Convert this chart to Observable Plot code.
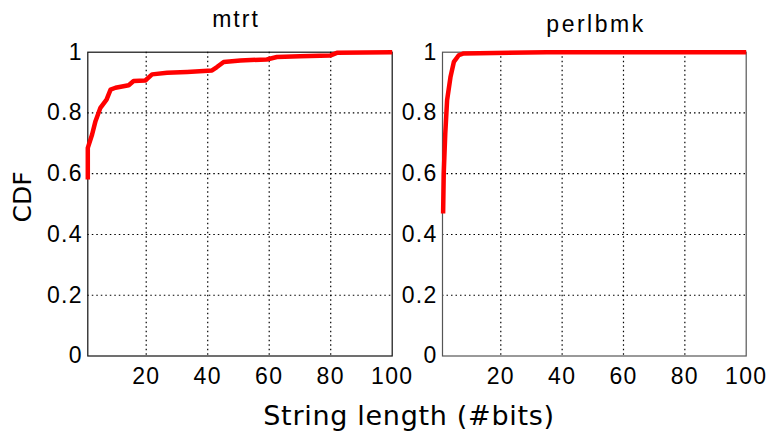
<!DOCTYPE html>
<html>
<head>
<meta charset="utf-8">
<script src="https://cdn.jsdelivr.net/npm/d3@7"></script>
<script src="https://cdn.jsdelivr.net/npm/@observablehq/plot@0.6"></script>
<style>
  body { margin: 0; background: #fff; }
  #wrap { position: relative; width: 769px; height: 431px; background: #fff; overflow: hidden; }
  #wrap > .panel { position: absolute; top: 0; overflow: visible; }
  #overlay { position: absolute; left: 0; top: 0; pointer-events: none; }
</style>
</head>
<body>
<div id="wrap"></div>
<script>
// ---- data ----
const panelTitles = ["mtrt", "perlbmk"];
const xTicks = [20, 40, 60, 80, 100];
const yTicks = [0, 0.2, 0.4, 0.6, 0.8, 1];
const xLabel = "String length (#bits)";
const yLabel = "CDF";

const mtrtLen = [1, 1, 2.4, 3.5, 5.1, 7.1, 8.4, 10, 14.3, 15.9, 19.7, 21.9, 26.8, 33.3, 41.4, 43, 45.2, 50.6, 59.2, 62.5, 70, 79.8, 82, 100];
const mtrtCdf = [0.581, 0.685, 0.729, 0.773, 0.817, 0.844, 0.877, 0.883, 0.891, 0.905, 0.907, 0.927, 0.932, 0.935, 0.94, 0.951, 0.968, 0.973, 0.976, 0.984, 0.987, 0.989, 0.998, 1.0];

const perlLen = [1.2, 1.4, 1.9, 2.5, 3.6, 4.7, 6.3, 7.9, 35, 100];
const perlCdf = [0.469, 0.60, 0.732, 0.842, 0.918, 0.968, 0.99, 0.996, 1.0, 1.0];

// ---- chart ----
const H = 431;
const plotTop = 51.7, plotBottom = 355.5;

function panel(lens, cdfs, {left, width, plotLeft, plotRight, frameColor}) {
  const data = lens.map((x, i) => ({x, y: cdfs[i]}));
  const xGrid = xTicks.filter(t => t > 1 && t < 100);
  const yGrid = yTicks.filter(t => t > 0 && t < 1);
  const svg = Plot.plot({
    width, height: H,
    marginLeft: plotLeft - left,
    marginRight: left + width - plotRight,
    marginTop: plotTop,
    marginBottom: H - plotBottom,
    style: {fontFamily: "'Liberation Sans', Arial, sans-serif", fontSize: "23px", color: "#000", background: "transparent", letterSpacing: "1.3px", overflow: "visible"},
    x: {domain: [1, 100], ticks: xTicks, tickSize: 0, tickPadding: 12, label: null, tickFormat: d => String(d)},
    y: {domain: [0, 1], ticks: yTicks, tickSize: 0, tickPadding: 5, label: null, tickFormat: d => String(d)},
    marks: [
      Plot.ruleX(xGrid, {stroke: "#000", strokeWidth: 1.2, strokeDasharray: "1.5,3", strokeOpacity: 1}),
      Plot.ruleY(yGrid, {stroke: "#000", strokeWidth: 1.2, strokeDasharray: "1.5,3", strokeOpacity: 1}),
      Plot.frame({stroke: frameColor, strokeWidth: 1.2}),
      Plot.line(data, {x: "x", y: "y", stroke: "#ff0000", strokeWidth: 4.5, strokeLinejoin: "round", strokeLinecap: "butt"})
    ]
  });
  svg.classList.add("panel");
  svg.style.left = left + "px";
  svg.style.overflow = "visible";
  return svg;
}

const wrap = document.getElementById("wrap");
wrap.appendChild(panel(mtrtLen, mtrtCdf, {left: 0, width: 415, plotLeft: 87.3, plotRight: 391.7, frameColor: "#111"}));
wrap.appendChild(panel(perlLen, perlCdf, {left: 392, width: 377, plotLeft: 442, plotRight: 745.7, frameColor: "#555"}));

// ---- titles and axis labels ----
const NS = "http://www.w3.org/2000/svg";
const ov = document.createElementNS(NS, "svg");
ov.setAttribute("id", "overlay");
ov.setAttribute("width", 769);
ov.setAttribute("height", H);
function addText(str, x, y, opts) {
  const t = document.createElementNS(NS, "text");
  t.textContent = str;
  t.setAttribute("x", x);
  t.setAttribute("y", y);
  t.setAttribute("text-anchor", "middle");
  t.setAttribute("font-family", opts.family);
  t.setAttribute("font-size", opts.size);
  t.setAttribute("fill", "#000");
  if (opts.ls) t.setAttribute("letter-spacing", opts.ls);
  if (opts.rotate) t.setAttribute("transform", `rotate(-90 ${x} ${y})`);
  ov.appendChild(t);
}
addText(panelTitles[0], 236, 27, {family: "'Liberation Sans', Arial, sans-serif", size: 23, ls: 2});
addText(panelTitles[1], 596, 32, {family: "'Liberation Sans', Arial, sans-serif", size: 23, ls: 2.5});
addText(xLabel, 409, 425, {family: "'DejaVu Sans', sans-serif", size: 27, ls: 0.7});
addText(yLabel, 31, 197, {family: "'DejaVu Sans', sans-serif", size: 25, rotate: true});
wrap.appendChild(ov);
</script>
</body>
</html>
